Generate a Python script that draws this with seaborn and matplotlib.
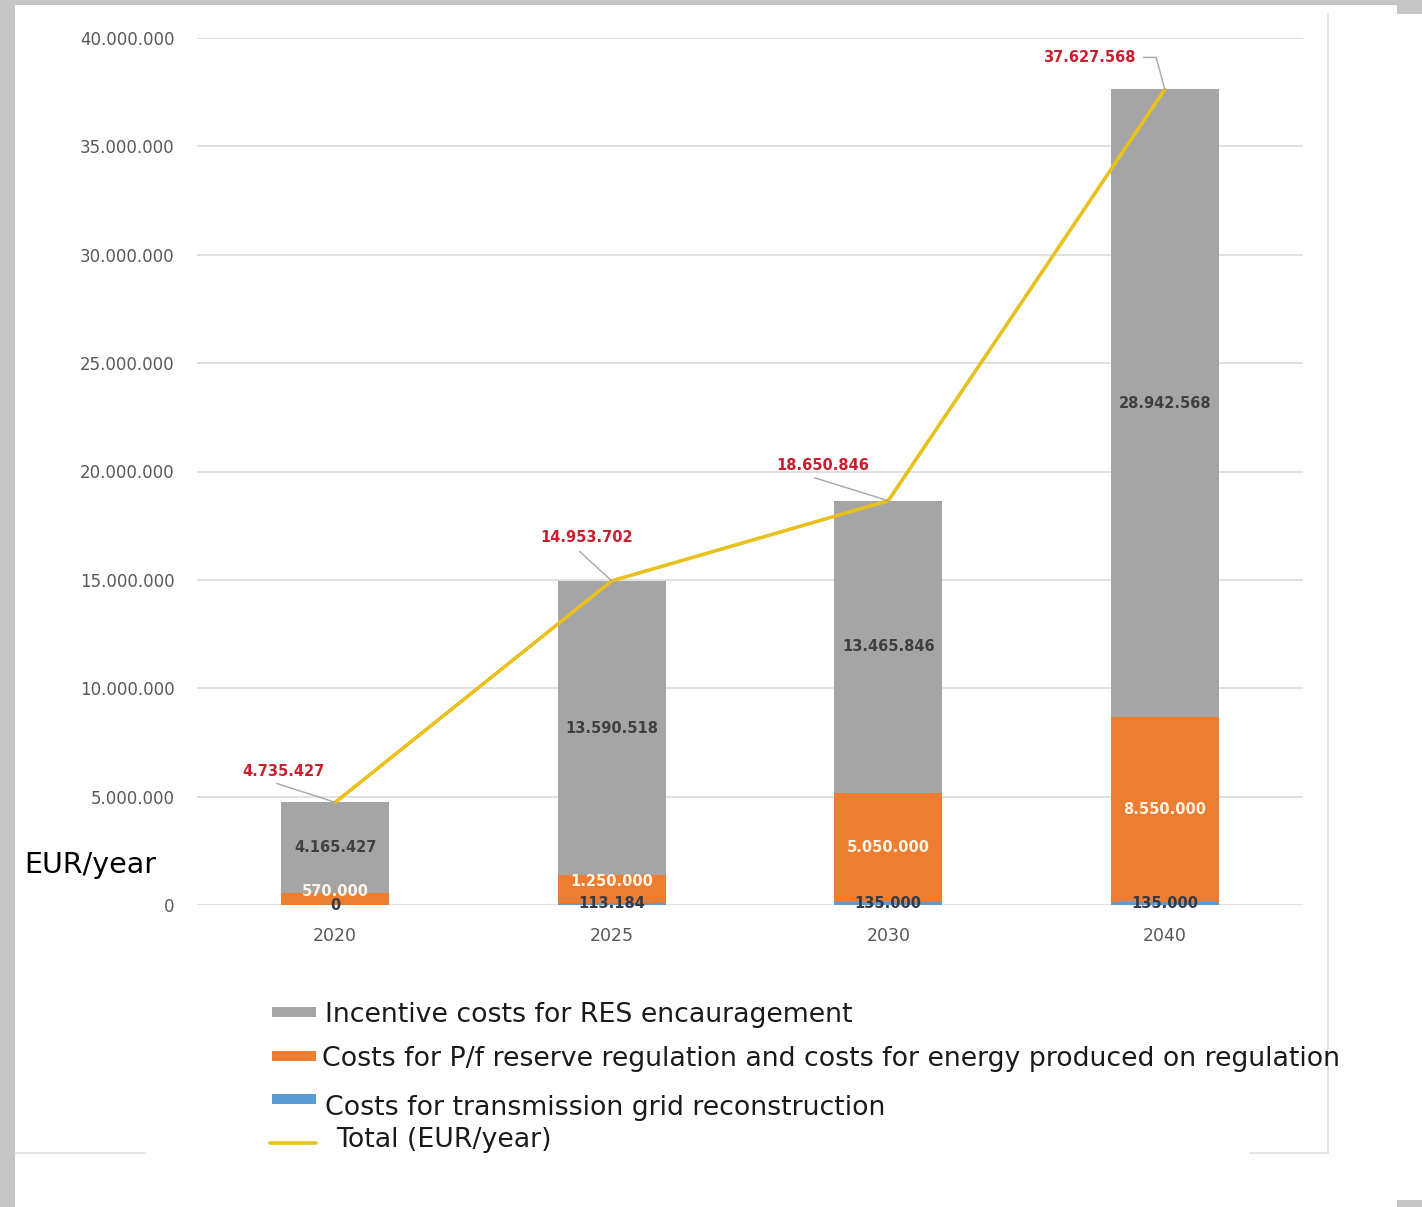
import numpy as np
import pandas as pd
import seaborn as sns
import matplotlib
matplotlib.use("Agg")
import matplotlib.pyplot as plt
from matplotlib.patches import Rectangle
from matplotlib.lines import Line2D

# ---------------- data ----------------
years = ["2020", "2025", "2030", "2040"]
incentive = [4165427, 13590518, 13465846, 28942568]
reserve = [570000, 1250000, 5050000, 8550000]
transmission = [0, 113184, 135000, 135000]
total = [4735427, 14953702, 18650846, 37627568]
ytick_values = [0, 5000000, 10000000, 15000000, 20000000, 25000000, 30000000, 35000000, 40000000]
legend_labels = ["Incentive costs for RES encauragement",
                 "Costs for P/f reserve regulation and costs for energy produced on regulation",
                 "Costs for transmission grid reconstruction",
                 "Total (EUR/year)"]
y_unit = "EUR/year"

GRAY = "#A5A5A5"
ORANGE = "#ED7D31"
BLUE = "#5B9BD5"
YELLOW = "#E8C11C"
RED = "#C8202E"


def fmt(v):
    return f"{int(round(v)):,}".replace(",", ".")


sns.set_theme(style="white")
plt.rcParams['font.family'] = ['DejaVu Sans']

W, H = 1422, 1207
fig = plt.figure(figsize=(W / 100, H / 100), dpi=100)
fig.patch.set_facecolor("white")


def fx(px):
    return px / W


def fy(py):
    return 1 - py / H


# screenshot frame
border = "#C6C6C6"
fig.add_artist(Rectangle((0, 0), fx(15), 1, transform=fig.transFigure, color=border, lw=0))
fig.add_artist(Rectangle((0, fy(5)), 1, 5 / H, transform=fig.transFigure, color=border, lw=0))
fig.add_artist(Rectangle((fx(1397), fy(14)), 25 / W, 14 / H, transform=fig.transFigure, color=border, lw=0))
fig.add_artist(Rectangle((fx(1397), 0), 25 / W, 7 / H, transform=fig.transFigure, color=border, lw=0))
fig.add_artist(Line2D([fx(1328), fx(1328)], [fy(14), fy(1153)], transform=fig.transFigure, color="#E2E2E2", lw=1.2))
fig.add_artist(Line2D([fx(15), fx(145)], [fy(1153), fy(1153)], transform=fig.transFigure, color="#E2E2E2", lw=1.2))
fig.add_artist(Line2D([fx(1250), fx(1328)], [fy(1153), fy(1153)], transform=fig.transFigure, color="#E2E2E2", lw=1.2))

ax = fig.add_axes([fx(197), fy(905), (1303 - 197) / W, (905 - 38) / H])
ax.set_facecolor("none")

trans = np.array(transmission, dtype=float)
res = np.array(reserve, dtype=float)
inc = np.array(incentive, dtype=float)
lvl1 = trans
lvl2 = trans + res
lvl3 = lvl2 + inc

df = pd.DataFrame({"year": years, "l1": lvl1, "l2": lvl2, "l3": lvl3})
bw = 0.39
sns.barplot(data=df, x="year", y="l3", color=GRAY, width=bw, saturation=1, errorbar=None, ax=ax, linewidth=0, zorder=2)
sns.barplot(data=df, x="year", y="l2", color=ORANGE, width=bw, saturation=1, errorbar=None, ax=ax, linewidth=0, zorder=2)
sns.barplot(data=df, x="year", y="l1", color=BLUE, width=bw, saturation=1, errorbar=None, ax=ax, linewidth=0, zorder=2)

xs = np.arange(len(years))
sns.lineplot(x=xs, y=total, color=YELLOW, lw=2.6, ax=ax, zorder=4)

ax.set_xlim(-0.5, len(years) - 0.5)
ax.set_ylim(0, 40000000)
ax.set_yticks(ytick_values)
ax.set_yticklabels([fmt(v) for v in ytick_values], color="#595959", fontsize=12)
ax.set_xticks(xs)
ax.set_xticklabels(years, color="#595959", fontsize=12.5)
ax.tick_params(axis="y", length=0, pad=16)
ax.tick_params(axis="x", length=0, pad=16)
ax.yaxis.grid(True, color="#D9D9D9", lw=1.1, zorder=0)
ax.set_axisbelow(True)
for s in ax.spines.values():
    s.set_visible(False)
ax.set_xlabel("")
ax.set_ylabel("")

# segment labels
for i in xs:
    ax.text(i, lvl2[i] + inc[i] / 2, fmt(inc[i]), ha="center", va="center",
            fontsize=10.5, fontweight="bold", color="#404040", zorder=5)
    off = 7 if res[i] < 2000000 else 0
    ax.annotate(fmt(res[i]), (i, trans[i] + res[i] / 2), xytext=(0, off), textcoords="offset pixels",
                ha="center", va="center", fontsize=10.5, fontweight="bold", color="#FFF4E6", zorder=5)
    ax.annotate(fmt(trans[i]), (i, trans[i] / 2), xytext=(0, 0), textcoords="offset pixels",
                ha="center", va="center", fontsize=10.5, fontweight="bold", color="#333B48", zorder=5)

# total labels with leader lines
offsets = [(-52, 31), (-25, 43), (-65, 35), (-75, 32)]
relpos = [(0.25, 0.0), (0.35, 0.0), (0.25, 0.0), (1.0, 0.5)]
conn = ["arc3", "arc3", "arc3", "angle,angleA=0,angleB=105,rad=0"]
for i in xs:
    ax.annotate(fmt(total[i]), (i, total[i]), xytext=offsets[i], textcoords="offset pixels",
                ha="center", va="center", fontsize=10.5, fontweight="bold", color=RED, zorder=6,
                arrowprops=dict(arrowstyle="-", color="#A6A6A6", lw=1, relpos=relpos[i],
                                shrinkA=3, shrinkB=0, connectionstyle=conn[i]))

# unit label
fig.text(fx(90), fy(865), y_unit, ha="center", va="center", fontsize=20.5, color="black")

# legend (manual)
leg_items = [
    ("patch", GRAY, 1012, 325, 1015),
    ("patch", ORANGE, 1056, 322, 1059),
    ("patch", BLUE, 1099, 325, 1108),
    ("line", YELLOW, 1143, 336, 1140),
]
for (kind, col, ky, tx, ty), lab in zip(leg_items, legend_labels):
    if kind == "patch":
        fig.add_artist(Rectangle((fx(272), fy(ky + 5)), 44 / W, 10 / H, transform=fig.transFigure,
                                 color=col, lw=0))
    else:
        fig.add_artist(Line2D([fx(270), fx(316)], [fy(ky), fy(ky)], transform=fig.transFigure,
                              color=col, lw=2.6))
    fig.text(fx(tx), fy(ty), lab, ha="left", va="center", fontsize=19.3, color="#1A1A1A")

fig.savefig("out.png", dpi=100, facecolor="white")
